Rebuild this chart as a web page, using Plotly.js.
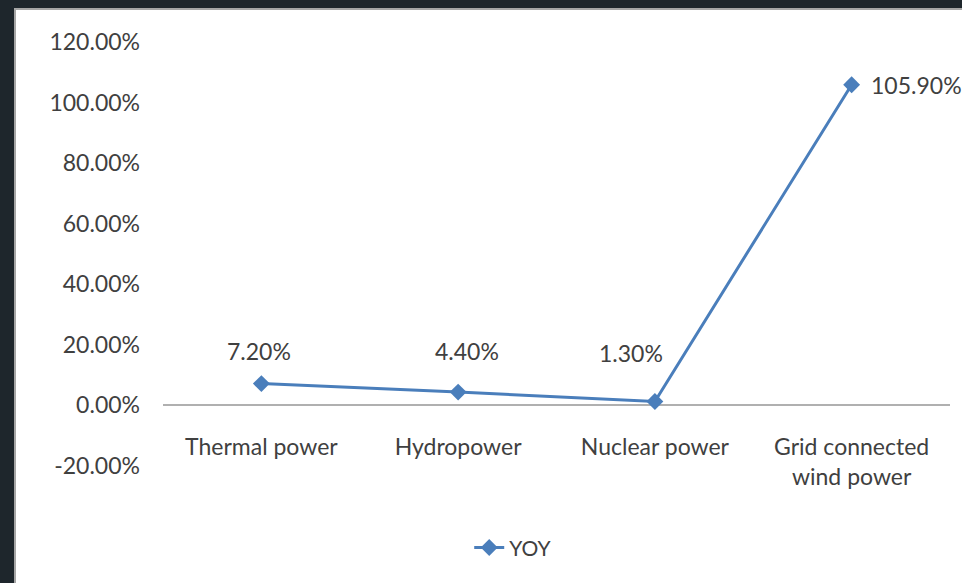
<!DOCTYPE html>
<html>
<head>
<meta charset="utf-8">
<script src="https://cdn.plot.ly/plotly-3.0.1.min.js"></script>
<style>
  html, body { margin: 0; padding: 0; background: #1e262c; width: 962px; height: 583px; overflow: hidden; }
  #frame { position: absolute; left: 14px; top: 8px; width: 946px; height: 573px;
           border-left: 2px solid #a6a6a6; border-top: 2px solid #a6a6a6; background: #ffffff; }
  #chart { width: 946px; height: 573px; }
</style>
</head>
<body>
<div id="frame"><div id="chart"></div></div>
<script>
// Data
const categories = ["Thermal power", "Hydropower", "Nuclear power", "Grid connected<br>wind power"];
const yoyValues = [7.2, 4.4, 1.3, 105.9];
const valueLabels = ["7.20%", "4.40%", "1.30%", "105.90%"];
const seriesName = "YOY";
const yTickVals = [-20, 0, 20, 40, 60, 80, 100, 120];
const yTickText = ["-20.00%", "0.00%", "20.00%", "40.00%", "60.00%", "80.00%", "100.00%", "120.00%"];

// Label placement (style only)
const labelXShift = [-2, 9, -24, 17];
const labelYShift = [33, 41, 48, 0];
const labelXAnchor = ["center", "center", "center", "left"];

const fontFam = "Lato, 'Open Sans', sans-serif";
const textColor = "#404040";
const blue = "#4a7ebb";

const trace = {
  type: "scatter",
  mode: "lines+markers",
  x: categories,
  y: yoyValues,
  name: seriesName,
  line: { color: blue, width: 3 },
  marker: { symbol: "diamond", size: 13, color: blue },
  hoverinfo: "skip"
};

const annotations = categories.map((c, i) => ({
  x: c, y: yoyValues[i], xref: "x", yref: "y",
  text: valueLabels[i], showarrow: false,
  xanchor: labelXAnchor[i], yanchor: "middle",
  xshift: labelXShift[i], yshift: labelYShift[i],
  font: { family: fontFam, size: 23, color: textColor }
}));

const layout = {
  width: 946, height: 573,
  margin: { l: 147, r: 12, t: 32, b: 117 },
  paper_bgcolor: "#ffffff",
  plot_bgcolor: "#ffffff",
  font: { family: fontFam, size: 23, color: textColor },
  showlegend: true,
  legend: {
    orientation: "h", x: 0.445, xanchor: "center", y: -0.193, yanchor: "middle",
    font: { family: fontFam, size: 21, color: textColor }
  },
  xaxis: {
    type: "category",
    range: [-0.5, 3.5],
    anchor: "free",
    position: 1 / 7,
    showline: false,
    showgrid: false,
    zeroline: false,
    ticks: "",
    ticklabelstandoff: 26,
    tickfont: { family: fontFam, size: 23, color: textColor }
  },
  yaxis: {
    range: [-20, 120],
    tickmode: "array",
    tickvals: yTickVals,
    ticktext: yTickText,
    showgrid: false,
    showline: false,
    zeroline: true,
    zerolinecolor: "#b0b0b0",
    zerolinewidth: 2,
    ticks: "",
    ticklabelstandoff: 22,
    tickfont: { family: fontFam, size: 23, color: textColor }
  },
  annotations: annotations
};

Plotly.newPlot("chart", [trace], layout, { displayModeBar: false, staticPlot: true });
</script>
</body>
</html>
